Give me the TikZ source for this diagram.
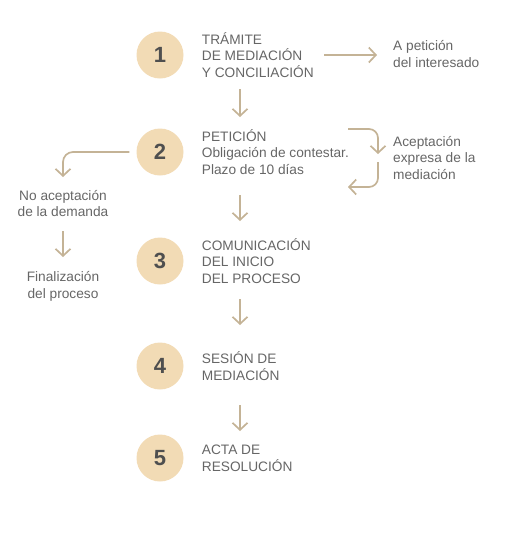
\documentclass[tikz,border=0pt]{standalone}
\usepackage{fontspec}
\setmainfont{Liberation Sans}
\usetikzlibrary{positioning,arrows.meta}
\definecolor{sand}{HTML}{F2DBB5}
\definecolor{tan}{HTML}{C4B396}
\definecolor{txtgray}{HTML}{666666}
\definecolor{numgray}{HTML}{4F4F4F}
\tikzset{
  num/.style={circle, fill=sand, minimum size=47pt, inner sep=0pt,
    text=numgray, font=\fontsize{22}{22}\selectfont\bfseries},
  steptext/.style={inner sep=0pt, align=left, text=txtgray,
    font=\fontsize{13.7}{16.8}\selectfont},
  sidetext/.style={steptext},
  arr/.style={draw=tan, line width=1.7pt,
    -{Straight Barb[length=7pt,width=15pt]}},
}

\begin{document}
\begin{tikzpicture}[x=1pt,y=-1pt]
  \useasboundingbox (0,0) rectangle (505,547);
  % steps
  \foreach \n/\y in {1/55,2/152,3/261,4/366,5/458}
    \node[num] (c\n) at (160,\y) {\n};
  \node[steptext, right=18pt of c1] (t1) {TRÁMITE\\DE MEDIACIÓN\\Y CONCILIACIÓN};
  \node[steptext, right=18pt of c2] (t2) {PETICIÓN\\Obligación de contestar.\\Plazo de 10 días};
  \node[steptext, right=18pt of c3] (t3) {COMUNICACIÓN\\DEL INICIO\\DEL PROCESO};
  \node[steptext, right=18pt of c4] (t4) {SESIÓN DE\\MEDIACIÓN};
  \node[steptext, right=18pt of c5] (t5) {ACTA DE\\RESOLUCIÓN};
  % side notes
  \node[sidetext, anchor=west] (p1) at (393,54) {A petición\\del interesado};
  \node[sidetext, anchor=west] (p2) at (393,158) {Aceptación\\expresa de la\\mediación};
  \node[sidetext, align=center] (q1) at (63,203.5) {No aceptación\\de la demanda};
  \node[sidetext, align=center] (q2) at (63,286.5) {Finalización\\del proceso};
  % down arrows
  \foreach \i/\a/\b in {1/89/117,2/195/221,3/299/325,4/405/431} {
    \coordinate (s\i) at (240,\a);
    \coordinate (e\i) at (240,\b);
    \draw[arr] (s\i) -- (e\i);
  }
  % to the right
  \coordinate (r1) at (324,55);
  \draw[arr, shorten >=16pt] (r1) -- (r1 -| p1.west);
  \coordinate (k1) at (348,129);
  \coordinate (k2) at (378,154);
  \coordinate (k3) at (378,162);
  \coordinate (k4) at (348,187);
  \draw[arr, rounded corners=9pt] (k1) -| (k2);
  \draw[arr, rounded corners=9pt] (k3) |- (k4);
  % to the left
  \coordinate (m1) at (63,177);
  \draw[arr, rounded corners=10pt, shorten <=7pt] (c2.west) -| (m1);
  \coordinate (m2) at (63,231);
  \coordinate (m3) at (63,257);
  \draw[arr] (m2) -- (m3);
\end{tikzpicture}
\end{document}
